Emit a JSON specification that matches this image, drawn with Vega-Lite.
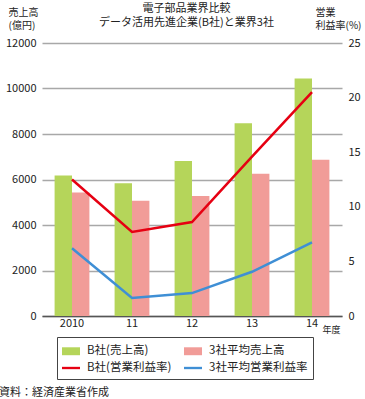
{
  "$schema": "https://vega.github.io/schema/vega-lite/v6.json",
  "width": 300,
  "height": 273,
  "autosize": {"type": "none"},
  "padding": {"left": 42, "top": 43, "right": 23, "bottom": 83},
  "config": {
    "font": "Noto Sans CJK JP",
    "view": {"stroke": null},
    "axis": {"labelFont": "Noto Sans CJK JP", "titleFont": "Noto Sans CJK JP", "labelColor": "#222", "titleColor": "#222", "labelFontSize": 11, "titleFontSize": 10, "titleFontWeight": "normal"},
    "legend": {"labelFont": "Noto Sans CJK JP", "labelFontSize": 11.5, "labelColor": "#222"},
    "title": {"font": "Noto Sans CJK JP", "fontSize": 11, "fontWeight": "normal", "color": "#222"}
  },
  "title": {"text": "資料：経済産業省作成", "orient": "bottom", "anchor": "start", "frame": "group", "dx": -43, "offset": 7},
  "datasets": {
    "sales": [
      {"year": "2010", "series": "B社(売上高)", "value": 6180},
      {"year": "2010", "series": "3社平均売上高", "value": 5430},
      {"year": "11", "series": "B社(売上高)", "value": 5840},
      {"year": "11", "series": "3社平均売上高", "value": 5070},
      {"year": "12", "series": "B社(売上高)", "value": 6810},
      {"year": "12", "series": "3社平均売上高", "value": 5280},
      {"year": "13", "series": "B社(売上高)", "value": 8470},
      {"year": "13", "series": "3社平均売上高", "value": 6250},
      {"year": "14", "series": "B社(売上高)", "value": 10440},
      {"year": "14", "series": "3社平均売上高", "value": 6870}
    ],
    "rate": [
      {"year": "2010", "series": "B社(営業利益率)", "value": 12.5},
      {"year": "11", "series": "B社(営業利益率)", "value": 7.7},
      {"year": "12", "series": "B社(営業利益率)", "value": 8.6},
      {"year": "13", "series": "B社(営業利益率)", "value": 14.6},
      {"year": "14", "series": "B社(営業利益率)", "value": 20.5},
      {"year": "2010", "series": "3社平均営業利益率", "value": 6.2},
      {"year": "11", "series": "3社平均営業利益率", "value": 1.65},
      {"year": "12", "series": "3社平均営業利益率", "value": 2.1},
      {"year": "13", "series": "3社平均営業利益率", "value": 4.05},
      {"year": "14", "series": "3社平均営業利益率", "value": 6.75}
    ]
  },
  "layer": [
    {
      "data": {"name": "sales"},
      "mark": {"type": "bar"},
      "encoding": {
        "x": {
          "field": "year", "type": "nominal", "sort": null,
          "scale": {"paddingInner": 0.42, "paddingOuter": 0.21},
          "axis": {"orient": "bottom", "labelAngle": 0, "ticks": false, "domainColor": "#555", "domainWidth": 1.5, "labelPadding": 1, "title": "年度", "titleFontSize": 9, "titleX": 280, "titleY": 13, "titleAlign": "left", "titleBaseline": "middle"}
        },
        "xOffset": {"field": "series", "type": "nominal", "sort": ["B社(売上高)", "3社平均売上高"]},
        "y": {
          "field": "value", "type": "quantitative",
          "scale": {"domain": [0, 12000]},
          "axis": {"orient": "left", "values": [0, 2000, 4000, 6000, 8000, 10000, 12000], "format": "d", "ticks": false, "domain": false, "grid": true, "gridColor": "#a8a8a8", "gridWidth": 1.5, "labelPadding": 6, "title": ["売上高", "(億円)"], "titleAngle": 0, "titleX": -34, "titleY": -36, "titleAlign": "left", "titleBaseline": "top", "titleLineHeight": 13.5}
        },
        "color": {
          "field": "series", "type": "nominal",
          "scale": {"domain": ["B社(売上高)", "3社平均売上高", "B社(営業利益率)", "3社平均営業利益率"], "range": ["#b5d55a", "#f19c98", "#e60012", "#3f8fd5"]},
          "legend": {
            "orient": "none", "legendX": 15, "legendY": 294, "direction": "horizontal", "columns": 2, "title": null,
            "strokeColor": "#444", "padding": 5, "rowPadding": 2, "columnPadding": 12, "labelOffset": 7, "symbolSize": 324, "labelLimit": 200,
            "encode": {"symbols": {"update": {
              "shape": {"signal": "(datum.value === 'B社(売上高)' || datum.value === '3社平均売上高') ? 'M-1,-0.44H1V0.44H-1Z' : 'M-1,-0.13H1V0.13H-1Z'"},
              "fill": {"signal": "scale('color', datum.value)"},
              "stroke": {"value": "transparent"},
              "strokeWidth": {"value": 0},
              "opacity": {"value": 1}
            }}}
          }
        }
      }
    },
    {
      "data": {"name": "rate"},
      "mark": {"type": "line", "strokeWidth": 2.5},
      "encoding": {
        "x": {
          "field": "year", "type": "nominal", "sort": null,
          "axis": {"orient": "top", "labels": false, "ticks": false, "domain": false, "title": ["電子部品業界比較", "データ活用先進企業(B社)と業界3社"], "titleFontSize": 11, "titleX": 144, "titleY": -41, "titleBaseline": "top", "titleLineHeight": 14.5}
        },
        "y": {
          "field": "value", "type": "quantitative",
          "scale": {"domain": [0, 25]},
          "axis": {"orient": "right", "values": [0, 5, 10, 15, 20, 25], "ticks": false, "domain": false, "grid": false, "labelPadding": 6, "title": ["営業", "利益率(%)"], "titleAngle": 0, "titleX": -27, "titleY": -36, "titleAlign": "left", "titleBaseline": "top", "titleLineHeight": 13.5}
        },
        "color": {"field": "series", "type": "nominal"}
      }
    }
  ],
  "resolve": {"scale": {"y": "independent"}, "axis": {"x": "independent"}}
}
